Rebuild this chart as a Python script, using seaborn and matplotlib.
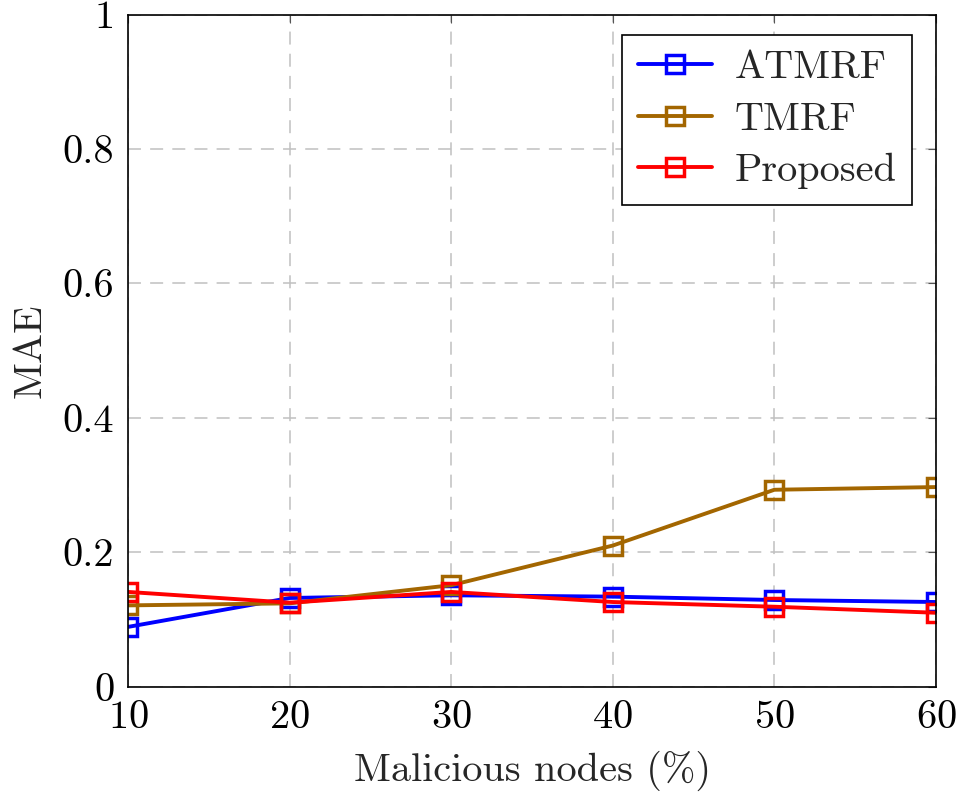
import pandas as pd
import seaborn as sns
import numpy as np
from matplotlib import pyplot as plt

# values
nodes = [10, 20, 30, 40, 50, 60]
atmrf = [0.089, 0.132, 0.136, 0.134, 0.129, 0.126]
tmrf = [0.121, 0.124, 0.151, 0.210, 0.293, 0.297]
proposed = [0.141, 0.125, 0.141, 0.126, 0.119, 0.110]

names = ["ATMRF", "TMRF", "Proposed"]
colors = ["#0000ff", "#a36600", "#ff0000"]

df = pd.DataFrame({
    "nodes": nodes * 3,
    "mae": atmrf + tmrf + proposed,
    "method": [n for n in names for _ in nodes],
})

sns.set_style("white")
plt.rcParams['font.family'] = ['cmr10', 'DejaVu Serif']
plt.rcParams['mathtext.fontset'] = 'cm'
plt.rcParams['axes.formatter.use_mathtext'] = True

fig = plt.figure(figsize=(9.56, 8.06), dpi=100)
ax = fig.add_axes([0.134, 0.148, 0.845, 0.834])

for name, col in zip(names, colors):
    sub = df[df['method'] == name]
    sns.lineplot(data=sub, x="nodes", y="mae", ax=ax, color=col, label=name,
                 linewidth=2.8, marker='s', markersize=12.5,
                 markerfacecolor='none', markeredgecolor=col, markeredgewidth=2.5)

ax.set_xlim(10, 60)
ax.set_ylim(0, 1)
ax.set_xticks([10, 20, 30, 40, 50, 60])
ax.set_yticks([0, 0.2, 0.4, 0.6, 0.8, 1])
ax.set_yticklabels(["0", "0.2", "0.4", "0.6", "0.8", "1"])
ax.grid(True, linestyle=(0, (8.5, 6)), color='#c0c0c0', linewidth=1.1)
ax.tick_params(direction='in', length=6, width=0.8, colors='#555555',
               labelcolor='black', labelsize=29, top=True, right=True, pad=10)
for s in ax.spines.values():
    s.set_color('black')
    s.set_linewidth(1.2)

ax.set_xlabel("Malicious nodes (%)", fontsize=29, labelpad=10)
ax.set_ylabel("MAE", fontsize=29, labelpad=10)

leg = ax.legend(loc='upper right', fontsize=29, frameon=True, fancybox=False,
                edgecolor='black', framealpha=1, borderpad=0.38,
                handlelength=1.85, handletextpad=0.55, labelspacing=0.38,
                borderaxespad=0, bbox_to_anchor=(0.970, 0.970))
leg.get_frame().set_linewidth(1.2)

plt.savefig("out.png", dpi=100)
